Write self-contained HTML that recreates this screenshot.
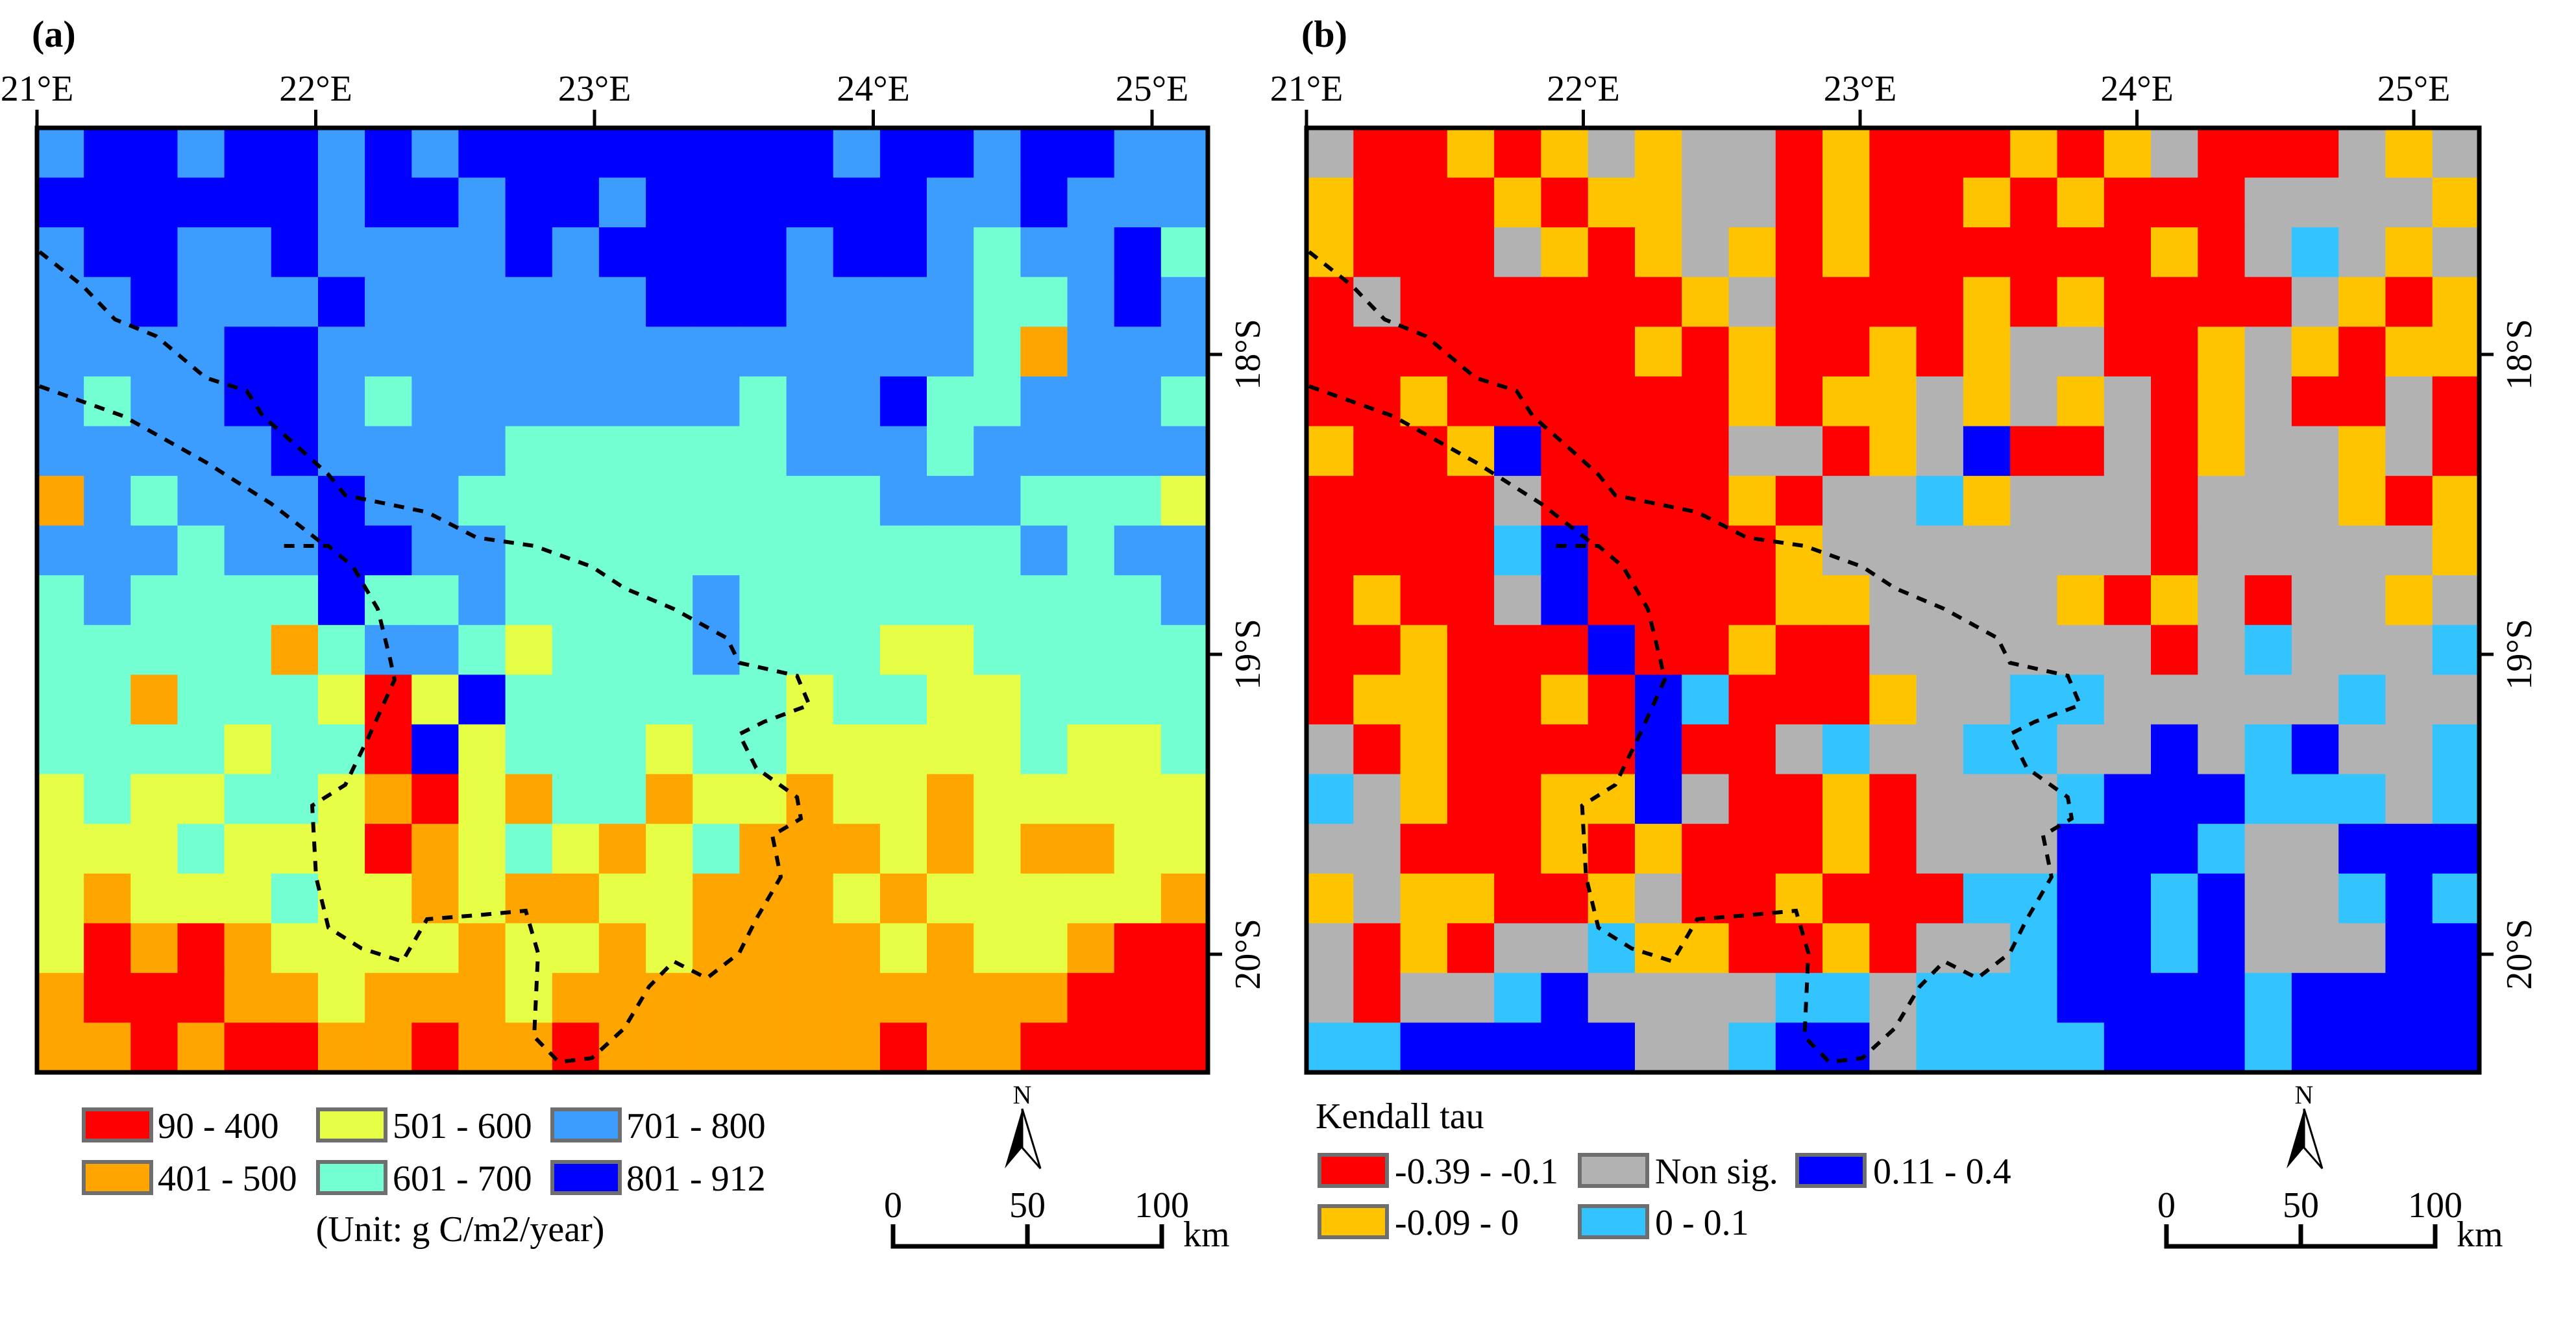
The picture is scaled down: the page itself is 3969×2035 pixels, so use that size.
<!DOCTYPE html>
<html><head><meta charset="utf-8"><style>
html,body{margin:0;padding:0;background:#fff}
svg, svg text{font-family:"Liberation Serif","DejaVu Serif",serif}
</style></head><body>
<svg id="fig" width="3969" height="2030" viewBox="0 0 3969 2030" xmlns="http://www.w3.org/2000/svg" font-family="Liberation Serif, DejaVu Serif, serif">
<rect width="3969" height="2030" fill="#fff"/>
</svg>
<script>
// ---- data ----
const lonTicks = [21, 22, 23, 24, 25];
const latTicks = [18, 19, 20];
const classesA = ["90 - 400","401 - 500","501 - 600","601 - 700","701 - 800","801 - 912"];
const classesB = ["-0.39 - -0.1","-0.09 - 0","Non sig.","0 - 0.1","0.11 - 0.4"];
const gridA = [
"LDDLDDLDLDDDDDDDDLDDLDDLL",
"DDDDDDLDDLDDLDDDDDDLLDLLL",
"LDDLLDLLLLDLDDDDLDDLCLLDC",
"LLDLLLDLLLLLLDDDLLLLCCLDL",
"LLLLDDLLLLLLLLLLLLLLCOLLL",
"LCLLDDLCLLLLLLLCLLDCCLLLC",
"LLLLLDLLLLCCCCCCLLLCLLLLL",
"OLCLLLDLLCCCCCCCCCLLLCCCY",
"LLLCLLDDLLCCCCCCCCCCCLCLL",
"CLCCCCDCCLCCCCLCCCCCCCCCL",
"CCCCCOCLLCYCCCLCCCYYCCCCC",
"CCOCCCYRYDCCCCCCYCCYYCCCC",
"CCCCYCCRDYCCCYCCYYYYYCYYC",
"YCYYCCYORYOCCOYYOYYOYYYYY",
"YYYCYYYROYCYOYCOOOYOYOOYY",
"YOYYYCYYOYOOYYOOOYOYYYYYO",
"YROROYYYYOYYOYOOOOYOYYORR",
"ORRROOYOOOYOOOOOOOOOOORRR",
"OORORROOROOROOOOOOROORRRR"];
const gridB = [
"NRRGRGNGNNRGRRRGRGNRRRNGN",
"GRRRGRGGNNRGRRGRGRRRNNNNG",
"GRRRNGRGNGRGRRRRRRGRNSNGN",
"RNRRRRRRGNRRRRGRGRRRRNGRG",
"RRRRRRRGRGRRGRGNNRRGNGRGG",
"RRGRRRRRRGRGGNGNGNRGNRRNR",
"GRRGBRRRRNNRGNBRRNRGNNGNR",
"RRRRNRRRRGRNNSGNNNRNNNGRG",
"RRRRSBRRRRGNNNNNNNRNNNNNG",
"RGRRNBRRRRGGNNNNGRGNRNNGN",
"RRGRRRBRRGRRNNNNNNRNSNNNS",
"RGGRRGRBSRRRGNNSSNNNNNSNN",
"NRGRRRRBRRNSNNSSNNBNSBNNS",
"SNGRRGGBNRRGRNNNSBBBSSSNS",
"NNRRRGRGRRRGRNNNBBBSNNBBB",
"GNGGRRGNRRGRRRSSBBSBNNSBS",
"NRGRNNSGGRRGRNNSBBSBNNNBB",
"NRNNSBNNNNSSNSSSBBBBSBBBB",
"SSBBBBBNNSBBNSSSSBBBSBBBB"];
const borderMain = [[61,388],[127,440],[177,492],[241,518],[317,582],[380,602],[405,641],[456,686],[506,731],[532,763],[595,776],[658,789],[734,828],[823,841],[912,873],[962,906],[1038,938],[1120,983],[1139,1021],[1228,1041],[1247,1086],[1177,1112],[1139,1131],[1165,1183],[1228,1228],[1234,1261],[1190,1287],[1203,1351],[1165,1416],[1139,1468],[1089,1507],[1038,1481],[1000,1520],[962,1584],[912,1630],[861,1636],[823,1597],[829,1468],[810,1403],[734,1410],[658,1416],[620,1481],[557,1461],[506,1429],[487,1351],[481,1241],[532,1209],[570,1131],[608,1047],[601,1015],[582,938],[544,873],[506,841],[430,841]];
const borderWest = [[61,595],[190,641],[317,712],[418,776],[494,835]];

// ---- layout ----
const colorsA = {R:"#ff0000",O:"#ffa500",Y:"#e6ff46",C:"#73ffd2",L:"#3d9dff",D:"#0000ff"};
const colorsB = {R:"#ff0000",G:"#ffc400",N:"#b2b2b2",S:"#33c4ff",B:"#0000ff"};
const SERIF = "Liberation Serif, DejaVu Serif, serif";
const NS="http://www.w3.org/2000/svg";
const svg=document.getElementById('fig');
function mk(tag,attrs,parent){const e=document.createElementNS(NS,tag);if(tag==='text')e.setAttribute('font-family',SERIF);for(const k in attrs)e.setAttribute(k,attrs[k]);(parent||svg).appendChild(e);return e;}

function drawMap(x0,x1,lonX,grid,colors,label,name){
  const y0=197,y1=1652;
  const g=mk('g',{});
  
  
  const rows=grid.length, cols=grid[0].length;
  const cw=(x1-x0)/cols, ch=(y1-y0)/rows;
  for(let r=0;r<rows;r++)for(let c=0;c<cols;c++){
    const cell=mk('rect',{x:(x0+c*cw).toFixed(1),y:(y0+r*ch).toFixed(1),width:(cw+0.8).toFixed(1),height:(ch+0.8).toFixed(1),fill:colors[grid[r][c]]},g);
    
    
  }
  const bx=x=>x0+(x-61)*(x1-x0)/1804+4;
  [borderMain,borderWest].forEach(pts=>{
    const pl=mk('polyline',{points:pts.map(p=>bx(p[0]).toFixed(1)+','+(p[1]).toFixed(1)).join(' '),fill:'none',stroke:'#000','stroke-width':6,'stroke-dasharray':'16 14'},g);
    
    
  });
  const fr=mk('rect',{x:x0,y:y0,width:x1-x0,height:y1-y0,fill:'none',stroke:'#000','stroke-width':7},g);
  
  
  const lonToX=l=>lonX[0]+(l-21)*(lonX[1]-lonX[0]);
  lonTicks.forEach(l=>{
    const x=lonToX(l);
    mk('line',{x1:x,y1:y0,x2:x,y2:y0-28,stroke:'#000','stroke-width':5},g);
    const t=mk('text',{x:x,y:155,'font-size':56,'text-anchor':'middle'},g);
    t.textContent=l+'°E';
    
    
  });
  const latToY=l=>546+(l-18)*462;
  latTicks.forEach(l=>{
    const y=latToY(l);
    mk('line',{x1:x1,y1:y,x2:x1+22,y2:y,stroke:'#000','stroke-width':5},g);
    const t=mk('text',{x:0,y:0,'font-size':56,'text-anchor':'middle',transform:`translate(${x1+80},${y}) rotate(-90)`},g);
    t.textContent=l+'°S';
    
    
  });
  const pl=mk('text',{x:x0-8,y:72,'font-size':58,'font-weight':'bold'},g);
  pl.textContent=label;
  
  
}
drawMap(57,1861,[57,486.5],gridA,colorsA,'(a)','map-a');
drawMap(2013,3820,[2013,2439.5],gridB,colorsB,'(b)','map-b');

function swatch(x,y,col,text,tx){
  const r=mk('rect',{x:x,y:y-24,width:104,height:48,fill:col,stroke:'#6e6e6e','stroke-width':6});
  
  
  const t=mk('text',{x:tx,y:y+20,'font-size':56});
  t.textContent=text;
  
  
}
const colA=[[129,243],[490,605],[851,965]];
const ordA=["R","O","Y","C","L","D"];
classesA.forEach((c,i)=>{const col=Math.floor(i/2),row=i%2;swatch(colA[col][0],row?1814:1733,colorsA[ordA[i]],c,colA[col][1]);});
let u=mk('text',{x:709,y:1912,'font-size':56,'text-anchor':'middle'});u.textContent='(Unit: g C/m2/year)';


let kt=mk('text',{x:2027,y:1738,'font-size':56});kt.textContent='Kendall tau';


const posB=[[2033,1803,2149],[2033,1882,2149],[2434,1803,2550],[2434,1882,2550],[2769,1803,2886]];
const ordB=["R","G","N","S","B"];
classesB.forEach((c,i)=>swatch(posB[i][0],posB[i][1],colorsB[ordB[i]],c,posB[i][2]));

function northScale(nx,sx0,sx1){
  const g=mk('g',{});
  
  
  const n=mk('text',{x:nx,y:1700,'font-size':40,'text-anchor':'middle','font-family':'Liberation Sans, sans-serif'},g);n.textContent='N';
  mk('path',{d:`M${nx} 1708 L${nx-27} 1800 L${nx} 1768 Z`,fill:'#000'},g);
  mk('path',{d:`M${nx} 1708 L${nx+28} 1800 L${nx} 1768 Z`,fill:'#fff',stroke:'#000','stroke-width':3},g);
  const sm=(sx0+sx1)/2;
  mk('path',{d:`M${sx0} 1886 V1920 H${sx1} V1886 M${sm} 1886 V1920`,fill:'none',stroke:'#000','stroke-width':7},g);
  [[sx0,'0'],[sm,'50'],[sx1,'100']].forEach(p=>{const t=mk('text',{x:p[0],y:1875,'font-size':56,'text-anchor':'middle'},g);t.textContent=p[1];});
  const k=mk('text',{x:sx1+33,y:1920,'font-size':56},g);k.textContent='km';
}
northScale(1575,1376,1790);
northScale(3550,3338,3752);
</script>
</body></html>
